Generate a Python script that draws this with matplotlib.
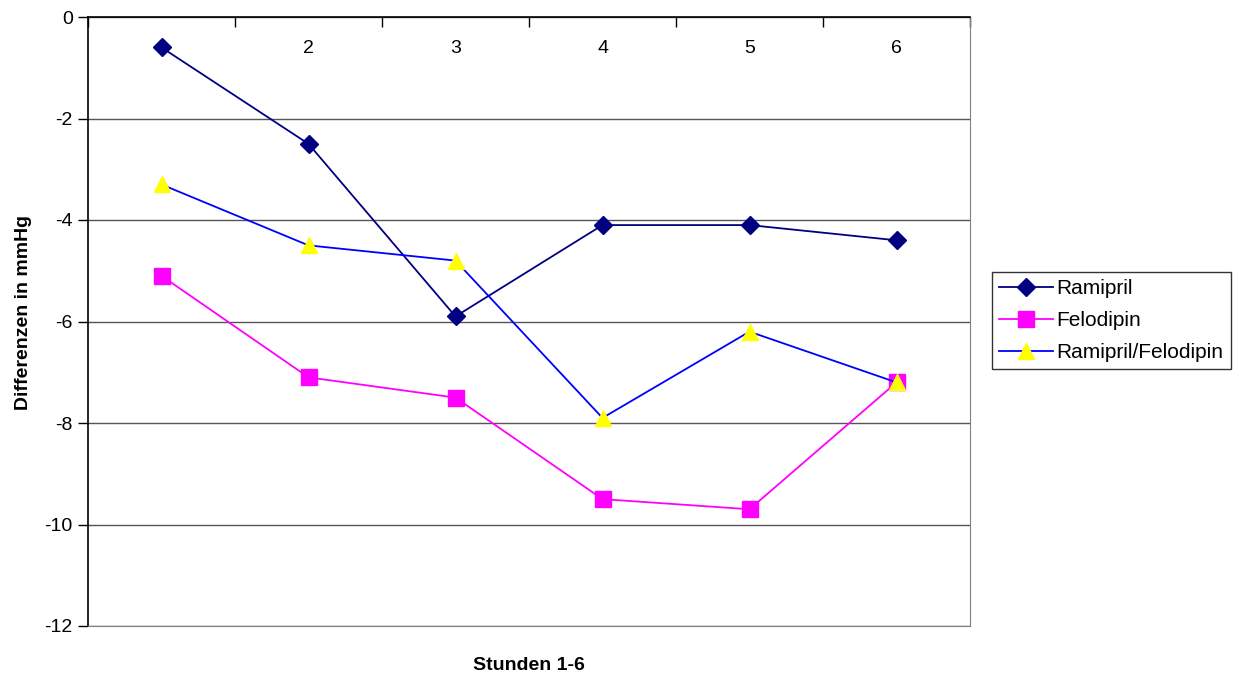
import matplotlib.pyplot as plt
import numpy as np

plt.rcParams['font.family'] = ['Liberation Sans', 'DejaVu Sans']
plt.rcParams['axes.unicode_minus'] = False

# Blutdruckdifferenzen je Stunde
stunden = [1, 2, 3, 4, 5, 6]
ramipril = [-0.6, -2.5, -5.9, -4.1, -4.1, -4.4]
felodipin = [-5.1, -7.1, -7.5, -9.5, -9.7, -7.2]
kombi = [-3.3, -4.5, -4.8, -7.9, -6.2, -7.2]

fig = plt.figure(figsize=(12.43, 6.77), dpi=100)
ax = fig.add_axes([88 / 1243, 51 / 677, 882 / 1243, 609 / 677])

x = np.arange(len(stunden))
ax.plot(x, ramipril, color="#000080", lw=1.3, marker="D", ms=9,
        mfc="#000080", mec="#000080", label="Ramipril", zorder=3)
ax.plot(x, felodipin, color="#FF00FF", lw=1.3, marker="s", ms=11,
        mfc="#FF00FF", mec="#FF00FF", label="Felodipin", zorder=3)
ax.plot(x, kombi, color="#0000FF", lw=1.3, marker="^", ms=11.5,
        mfc="#FFFF00", mec="#FFFF00", label="Ramipril/Felodipin", zorder=3)

ax.set_xlim(-0.5, len(stunden) - 0.5)
ax.set_ylim(-12, 0)
ax.set_yticks(np.arange(-12, 1, 2))
ax.tick_params(axis="y", direction="out", length=7, width=1, labelsize=14, pad=4)
ax.grid(axis="y", color="#555555", lw=1)
ax.set_axisbelow(True)

# Kategorieachse oben bei 0, Striche zwischen den Stunden
ax.xaxis.tick_top()
ax.set_xticks(np.arange(-0.5, len(stunden), 1))
ax.set_xticklabels([])
ax.tick_params(axis="x", direction="in", length=7, width=1)
for xi, s in zip(x, stunden):
    ax.text(xi, -0.62, str(s), ha="center", va="center", fontsize=14, zorder=1)

for side in ["right", "bottom"]:
    ax.spines[side].set_color("#808080")
for side in ["left", "top"]:
    ax.spines[side].set_color("black")
    ax.spines[side].set_linewidth(1.2)

ax.xaxis.set_label_position("bottom")
ax.set_xlabel("Stunden 1-6", fontsize=14, fontweight="bold", labelpad=22)
ax.set_ylabel("Differenzen in mmHg", fontsize=14, fontweight="bold")
ax.yaxis.set_label_coords(-0.063, 0.515)

leg = fig.legend(loc="upper left", bbox_to_anchor=(992 / 1243, 1 - 272 / 677),
                 fontsize=15, frameon=True, fancybox=False, edgecolor="black",
                 handlelength=2.6, borderpad=0.35, labelspacing=0.62,
                 handletextpad=0.15, borderaxespad=0)
leg.get_frame().set_linewidth(1)

fig.savefig("out.png", dpi=100)
